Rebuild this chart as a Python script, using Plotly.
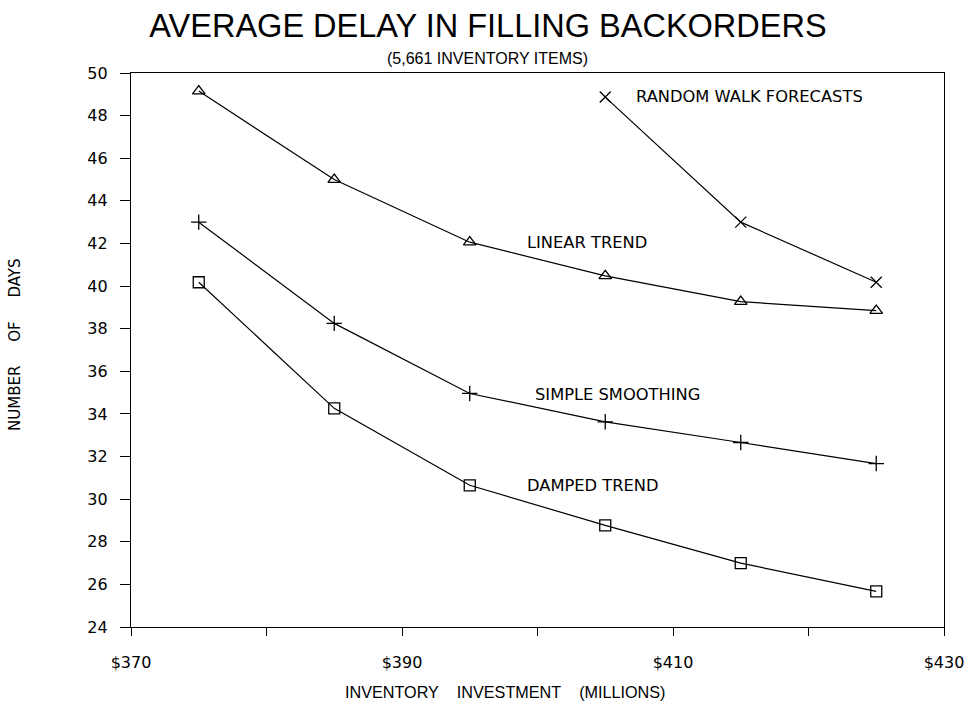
import plotly.graph_objects as go

x_all = [375, 385, 395, 405, 415, 425]
linear_trend = [49.15, 45.0, 42.06, 40.48, 39.27, 38.85]
simple_smoothing = [43.0, 38.25, 34.96, 33.63, 32.66, 31.67]
damped_trend = [40.18, 34.26, 30.65, 28.77, 27.0, 25.67]
x_random = [405, 415, 425]
random_walk = [48.87, 43.0, 40.18]

x_tickvals = [370, 380, 390, 400, 410, 420, 430]
x_ticktext = ["$370", "", "$390", "", "$410", "", "$430"]
y_tickvals = list(range(24, 51, 2))

labels = [
    ("RANDOM WALK FORECASTS", 407.1, 48.9),
    ("LINEAR TREND", 399.1, 42.05),
    ("SIMPLE SMOOTHING", 399.7, 34.93),
    ("DAMPED TREND", 399.1, 30.65),
]

TITLE_FONT = "Liberation Sans"
FONT = "DejaVu Sans"

fig = go.Figure()

def add(xs, ys, symbol, size):
    fig.add_trace(go.Scatter(
        x=xs, y=ys, mode="lines+markers",
        line=dict(color="black", width=1.2),
        marker=dict(symbol=symbol, size=size, color="black",
                    line=dict(color="black", width=1.3)),
        showlegend=False, hoverinfo="skip"))

add(x_all, linear_trend, "triangle-up-open", 11)
add(x_all, simple_smoothing, "cross-thin-open", 11)
add(x_all, damped_trend, "square-open", 11)
add(x_random, random_walk, "x-thin-open", 11)

for text, xv, yv in labels:
    fig.add_annotation(x=xv, y=yv, text=text, showarrow=False,
                       xanchor="left", yanchor="middle",
                       font=dict(family=FONT, size=16.3, color="black"))

# subtitle
fig.add_annotation(xref="paper", yref="paper", x=0.4385, y=1.0, yshift=15,
                   text="(5,661 INVENTORY ITEMS)", showarrow=False,
                   xanchor="center", yanchor="middle",
                   font=dict(family=TITLE_FONT, size=16, color="black"))
# x axis title
fig.add_annotation(xref="paper", yref="paper", x=0.461, y=0.0, yshift=-65,
                   text="INVENTORY&nbsp;&nbsp;&nbsp; INVESTMENT&nbsp;&nbsp;&nbsp; (MILLIONS)",
                   showarrow=False, xanchor="center", yanchor="middle",
                   font=dict(family=TITLE_FONT, size=16.2, color="black"))
# y axis title
fig.add_annotation(xref="paper", yref="paper", x=0.0, xshift=-116, y=0.509,
                   text="NUMBER&nbsp;&nbsp;&nbsp;&nbsp; OF&nbsp;&nbsp;&nbsp;&nbsp; DAYS",
                   textangle=-90, showarrow=False,
                   xanchor="center", yanchor="middle",
                   font=dict(family=FONT, size=15, color="black"))

fig.update_layout(
    width=974, height=701,
    paper_bgcolor="white", plot_bgcolor="white",
    margin=dict(l=131, r=30, t=73, b=74),
    title=dict(text="AVERAGE DELAY IN FILLING BACKORDERS",
               x=0.501, xanchor="center", y=0.963, yanchor="middle",
               font=dict(family=TITLE_FONT, size=32.5, color="black")),
    xaxis=dict(range=[370, 430], tickvals=x_tickvals, ticktext=x_ticktext,
               ticks="outside", ticklen=8, tickcolor="black", tickwidth=1,
               showline=True, linecolor="black", linewidth=1.2, mirror=True,
               showgrid=False, zeroline=False, ticklabelstandoff=13,
               automargin=False,
               tickfont=dict(family=FONT, size=16, color="black")),
    yaxis=dict(range=[24, 50], tickvals=y_tickvals,
               ticks="outside", ticklen=10, tickcolor="black", tickwidth=1,
               showline=True, linecolor="black", linewidth=1.2, mirror=True,
               showgrid=False, zeroline=False, ticklabelstandoff=9,
               automargin=False,
               tickfont=dict(family=FONT, size=16, color="black")),
)

fig.write_html("out.html", config={"displayModeBar": False},
               post_script="document.body.style.margin='0px';document.body.style.overflow='hidden';")
